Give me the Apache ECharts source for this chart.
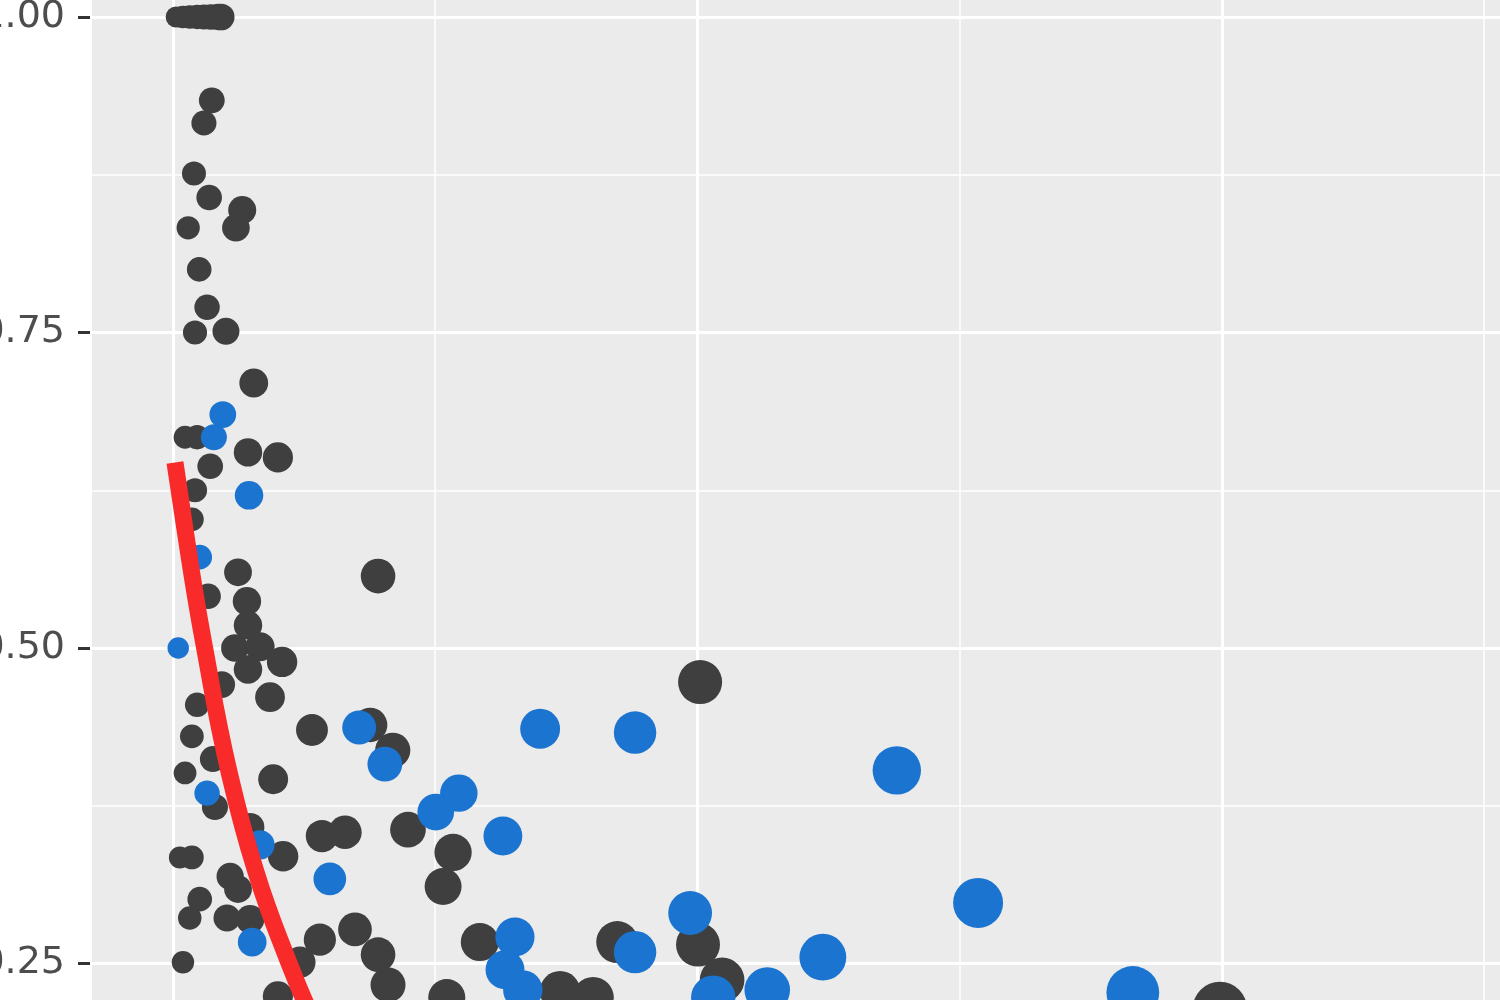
<!DOCTYPE html>
<html>
<head>
<meta charset="utf-8">
<script src="https://cdn.jsdelivr.net/npm/echarts@6/dist/echarts.min.js"></script>
<style>
html, body { margin:0; padding:0; background:#fff; overflow:hidden; width:1500px; height:1000px; }
#chart { position:absolute; left:-100px; top:-100px; width:2100px; height:1400px; }
</style>
</head>
<body>
<div id="chart"></div>
<script>
// values (x in axis units, y as proportion)
var darkX = [0.6,1.9,3.2,4.6,5.9,7.2,8.6,9.2,
	7.4,5.9,4.0,6.9,13.2,12.0,2.9,5.0,6.5,4.2,10.1,15.4,2.3,4.6,14.3,20.0,7.1,4.2,3.6,
	12.4,39.1,6.7,14.1,14.3,11.8,16.6,20.8,14.3,9.3,4.6,18.5,3.6,26.5,37.6,41.9,7.6,2.3,
	19.1,8.0,14.7,28.4,32.8,44.8,1.3,3.6,21.0,53.4,10.9,12.4,51.5,5.1,3.2,10.3,14.7,28.0,
	34.7,58.5,84.7,100.1,39.1,24.2,1.9,104.7,41.0,20.0,52.2,73.8,80.1,100.5,199.6];
var darkY = [1.000,1.000,1.000,1.000,1.000,1.000,1.000,1.000,
	0.934,0.916,0.876,0.857,0.847,0.833,0.833,0.800,0.770,0.750,0.751,0.710,0.667,0.667,0.655,0.651,0.644,0.625,0.602,
	0.560,0.557,0.541,0.537,0.518,0.500,0.501,0.489,0.483,0.471,0.455,0.461,0.430,0.435,0.439,0.419,0.412,0.401,
	0.396,0.374,0.358,0.351,0.354,0.356,0.334,0.334,0.335,0.338,0.319,0.309,0.311,0.301,0.286,0.286,0.285,0.269,
	0.277,0.267,0.267,0.265,0.257,0.251,0.251,0.237,0.233,0.224,0.223,0.228,0.223,0.473,0.214];
var blueX = [9.5,7.8,14.5,5.1,1.0,6.5,35.5,40.4,16.6,29.9,15.1,54.5,50.1,62.9,70.0,88.1,
	98.6,65.2,63.3,66.7,88.1,103.0,113.3,138.0,153.5,123.9,183.0];
var blueY = [0.685,0.667,0.621,0.572,0.500,0.385,0.437,0.408,0.344,0.317,0.267,0.385,0.370,0.351,0.436,0.433,
	0.290,0.271,0.245,0.229,0.259,0.223,0.229,0.403,0.298,0.255,0.227];
var fitX = [0.38,2.29,4.33,6.43,8.85,11.08,13.21,15.42,17.94,21.12,25.03,29.32];
var fitY = [0.647,0.594,0.540,0.491,0.437,0.395,0.360,0.328,0.296,0.261,0.221,0.182];

function pairs(xs, ys) {
	var out = [];
	for (var i = 0; i < xs.length; i++) out.push([xs[i], ys[i]]);
	return out;
}

// point size grows with x (area scale)
function pointSize(v) { return 19 + 2.5 * Math.sqrt(Math.max(v[0], 0)); }

var myChart = echarts.init(document.getElementById('chart'));
var option = {
	animation: false,
	grid: {
		left: 190, right: 253.5, top: 53.9, bottom: 21,
		show: true, backgroundColor: '#EBEBEB', borderWidth: 0,
		containLabel: false, outerBoundsMode: 'none'
	},
	xAxis: [{
		type: 'value', min: -15.82, max: 300,
		minInterval: 100, maxInterval: 100,
		axisLine: {show: false, onZero: false}, axisTick: {show: false}, axisLabel: {show: false},
		splitLine: {show: true, lineStyle: {color: '#FFFFFF', width: 3}}
	}, {
		// minor grid lines, shifted by half a step
		type: 'value', min: -65.82, max: 250,
		minInterval: 100, maxInterval: 100,
		axisLine: {show: false, onZero: false}, axisTick: {show: false}, axisLabel: {show: false},
		splitLine: {show: true, lineStyle: {color: '#FFFFFF', width: 1.5}}
	}],
	yAxis: {
		type: 'value', min: 0, max: 1.05, interval: 0.25,
		axisLine: {show: false, onZero: false},
		axisTick: {show: true, length: 12, lineStyle: {color: '#333333', width: 3}},
		axisLabel: {
			margin: 25, fontSize: 38, color: '#4D4D4D', fontFamily: 'DejaVu Sans',
			showMaxLabel: false,
			formatter: function (v) { return v.toFixed(2); }
		},
		splitLine: {show: true, lineStyle: {color: '#FFFFFF', width: 3}},
		minorTick: {show: false, splitNumber: 2},
		minorSplitLine: {show: true, lineStyle: {color: '#FFFFFF', width: 1.5}}
	},
	series: [{
		type: 'scatter', xAxisIndex: 0,
		data: pairs(darkX, darkY),
		symbolSize: pointSize,
		itemStyle: {color: '#3F3F3F', opacity: 1}
	}, {
		type: 'scatter', xAxisIndex: 0,
		data: pairs(blueX, blueY),
		symbolSize: pointSize,
		itemStyle: {color: '#1B74CF', opacity: 1}
	}, {
		type: 'line', xAxisIndex: 0,
		data: pairs(fitX, fitY),
		smooth: 0.5, symbol: 'none',
		lineStyle: {color: '#F92A2A', width: 17, cap: 'butt'}
	}]
};
myChart.setOption(option);
</script>
</body>
</html>
